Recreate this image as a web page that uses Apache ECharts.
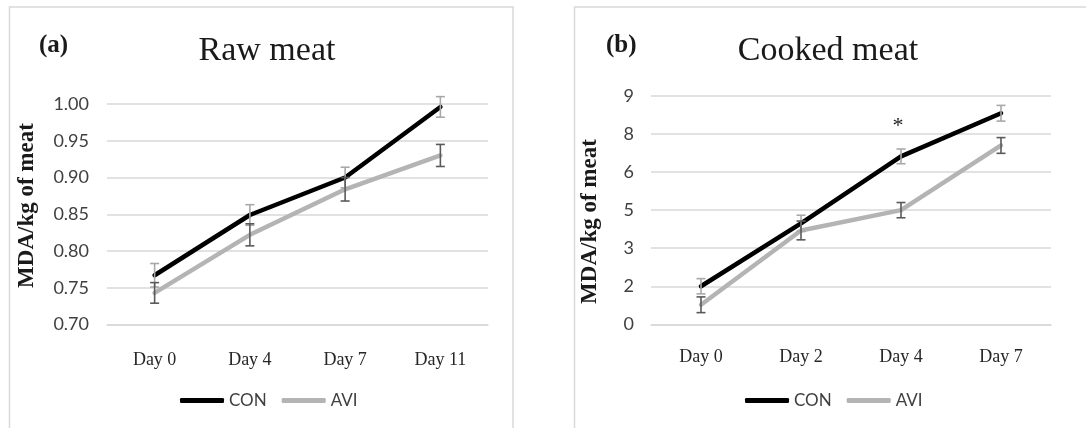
<!DOCTYPE html>
<html>
<head>
<meta charset="utf-8">
<script src="https://cdn.jsdelivr.net/npm/echarts@6/dist/echarts.min.js"></script>
<style>
html,body{margin:0;padding:0;background:#fff;}
#c{width:1086px;height:428px;}
</style>
</head>
<body>
<div id="c"></div>
<script>
// ---- Data ----
var rawCategories = ['Day 0', 'Day 4', 'Day 7', 'Day 11'];
var rawCon = [0.767, 0.849, 0.900, 0.996];
var rawConErr = [0.016, 0.014, 0.014, 0.014];
var rawAvi = [0.743, 0.822, 0.884, 0.930];
var rawAviErr = [0.014, 0.015, 0.016, 0.015];

var cookedCategories = ['Day 0', 'Day 2', 'Day 4', 'Day 7'];
var cookedCon = [1.50, 3.98, 6.62, 8.32];
var cookedConErr = [0.30, 0.32, 0.29, 0.31];
var cookedAvi = [0.77, 3.70, 4.50, 7.05];
var cookedAviErr = [0.31, 0.37, 0.30, 0.31];

var seriesNames = ['CON', 'AVI'];
var panelTitles = ['Raw meat', 'Cooked meat'];
var panelTags = ['(a)', '(b)'];
var yTitle = 'MDA/kg of meat';
var significance = {category: 'Day 4', value: 8.0, text: '*'};

// ---- Styles ----
var CON_COLOR = '#000000';
var AVI_COLOR = '#b4b4b4';
var CON_ERR = '#a8a8a8';
var AVI_ERR = '#5a5a5a';
var GRID_COLOR = '#d9d9d9';
var SERIF = '"Liberation Serif", "Times New Roman", serif';
var SANS = 'Lato, "Open Sans", sans-serif';

function errSeries(name, xi, yi, vals, errs, color) {
  return {
    type: 'custom',
    name: name + ' err',
    xAxisIndex: xi, yAxisIndex: yi,
    z: 5,
    silent: true,
    data: vals.map(function (v, i) { return [i, v - errs[i], v + errs[i]]; }),
    renderItem: function (params, api) {
      var lo = api.coord([api.value(0), api.value(1)]);
      var hi = api.coord([api.value(0), api.value(2)]);
      var hw = 4.5;
      var st = {stroke: color, lineWidth: 1.6};
      return {
        type: 'group',
        children: [
          {type: 'line', shape: {x1: lo[0], y1: lo[1], x2: hi[0], y2: hi[1]}, style: st},
          {type: 'line', shape: {x1: lo[0] - hw, y1: lo[1], x2: lo[0] + hw, y2: lo[1]}, style: st},
          {type: 'line', shape: {x1: hi[0] - hw, y1: hi[1], x2: hi[0] + hw, y2: hi[1]}, style: st}
        ]
      };
    },
    encode: {x: 0, y: [1, 2]}
  };
}

function lineSeries(name, xi, yi, vals, color, extra) {
  var s = {
    type: 'line', name: name, xAxisIndex: xi, yAxisIndex: yi,
    data: vals, symbol: 'none', smooth: false,
    lineStyle: {color: color, width: 4.5, cap: 'round', join: 'round'},
    itemStyle: {color: color},
    z: 3, animation: false
  };
  if (extra) for (var k in extra) s[k] = extra[k];
  return s;
}

var xAxisCommon = function (idx, cats, margin) {
  return {
    type: 'category', gridIndex: idx, data: cats, boundaryGap: true,
    axisLine: {show: true, lineStyle: {color: GRID_COLOR, width: 1.5}},
    axisTick: {show: false},
    axisLabel: {color: '#262626', fontFamily: SERIF, fontSize: 18, margin: margin}
  };
};

var option = {
  animation: false,
  backgroundColor: '#ffffff',
  grid: [
    {left: 107, top: 104, width: 381, height: 220.5},
    {left: 651, top: 96, width: 400, height: 228.3}
  ],
  xAxis: [xAxisCommon(0, rawCategories, 27), xAxisCommon(1, cookedCategories, 24)],
  yAxis: [
    {
      type: 'value', gridIndex: 0, min: 0.70, max: 1.00, interval: 0.05,
      axisLine: {show: false}, axisTick: {show: false},
      splitLine: {lineStyle: {color: GRID_COLOR, width: 1.5}},
      axisLabel: {color: '#404040', fontFamily: SANS, fontSize: 18, margin: 18,
        formatter: function (v) { return v.toFixed(2); }}
    },
    {
      type: 'value', gridIndex: 1, min: 0, max: 9, interval: 1.5,
      axisLine: {show: false}, axisTick: {show: false},
      splitLine: {lineStyle: {color: GRID_COLOR, width: 1.5}},
      axisLabel: {color: '#404040', fontFamily: SANS, fontSize: 18, margin: 17,
        formatter: function (v) { return String(Math.round(v)); }}
    }
  ],
  title: [
    {text: panelTitles[0], left: 262, top: 29, textAlign: 'center',
      textStyle: {fontFamily: SERIF, fontSize: 34, fontWeight: 'normal', color: '#1a1a1a'}},
    {text: panelTitles[1], left: 823, top: 29, textAlign: 'center',
      textStyle: {fontFamily: SERIF, fontSize: 34, fontWeight: 'normal', color: '#1a1a1a'}},
    {text: panelTags[0], left: 34, top: 28,
      textStyle: {fontFamily: SERIF, fontSize: 25, fontWeight: 'bold', color: '#1a1a1a'}},
    {text: panelTags[1], left: 601, top: 28,
      textStyle: {fontFamily: SERIF, fontSize: 25, fontWeight: 'bold', color: '#1a1a1a'}}
  ],
  legend: [
    {data: seriesNames, left: 175, top: 387, icon: 'roundRect', itemWidth: 44, itemHeight: 5,
      itemGap: 15, textStyle: {fontFamily: SANS, fontSize: 17, color: '#404040'}},
    {data: seriesNames, left: 740, top: 387, icon: 'roundRect', itemWidth: 44, itemHeight: 5,
      itemGap: 15, textStyle: {fontFamily: SANS, fontSize: 17, color: '#404040'}}
  ],
  graphic: [
    {type: 'rect', shape: {x: 9.5, y: 7, width: 503.5, height: 440}, silent: true,
      style: {fill: null, stroke: GRID_COLOR, lineWidth: 1.5}},
    {type: 'rect', shape: {x: 574.5, y: 7, width: 540, height: 440}, silent: true,
      style: {fill: null, stroke: GRID_COLOR, lineWidth: 1.5}},
    {type: 'text', x: 27, y: 205.5, rotation: Math.PI / 2, silent: true,
      style: {text: yTitle, fontFamily: SERIF, fontSize: 23, fontWeight: 'bold', fill: '#1a1a1a',
        align: 'center', verticalAlign: 'middle'}},
    {type: 'text', x: 590, y: 221.5, rotation: Math.PI / 2, silent: true,
      style: {text: yTitle, fontFamily: SERIF, fontSize: 23, fontWeight: 'bold', fill: '#1a1a1a',
        align: 'center', verticalAlign: 'middle'}}
  ],
  series: [
    lineSeries(seriesNames[0], 0, 0, rawCon, CON_COLOR),
    lineSeries(seriesNames[1], 0, 0, rawAvi, AVI_COLOR),
    errSeries(seriesNames[0], 0, 0, rawCon, rawConErr, CON_ERR),
    errSeries(seriesNames[1], 0, 0, rawAvi, rawAviErr, AVI_ERR),
    lineSeries(seriesNames[0], 1, 1, cookedCon, CON_COLOR, {
      markPoint: {
        symbol: 'circle', symbolSize: 0, silent: true,
        data: [{coord: [significance.category, significance.value], value: significance.text}],
        label: {show: true, position: 'inside', formatter: significance.text,
          fontFamily: SERIF, fontSize: 22, color: '#1a1a1a', offset: [-3, 5]}
      }
    }),
    lineSeries(seriesNames[1], 1, 1, cookedAvi, AVI_COLOR),
    errSeries(seriesNames[0], 1, 1, cookedCon, cookedConErr, CON_ERR),
    errSeries(seriesNames[1], 1, 1, cookedAvi, cookedAviErr, AVI_ERR)
  ]
};

var chart = echarts.init(document.getElementById('c'), null, {renderer: 'canvas'});
chart.setOption(option);
</script>
</body>
</html>
